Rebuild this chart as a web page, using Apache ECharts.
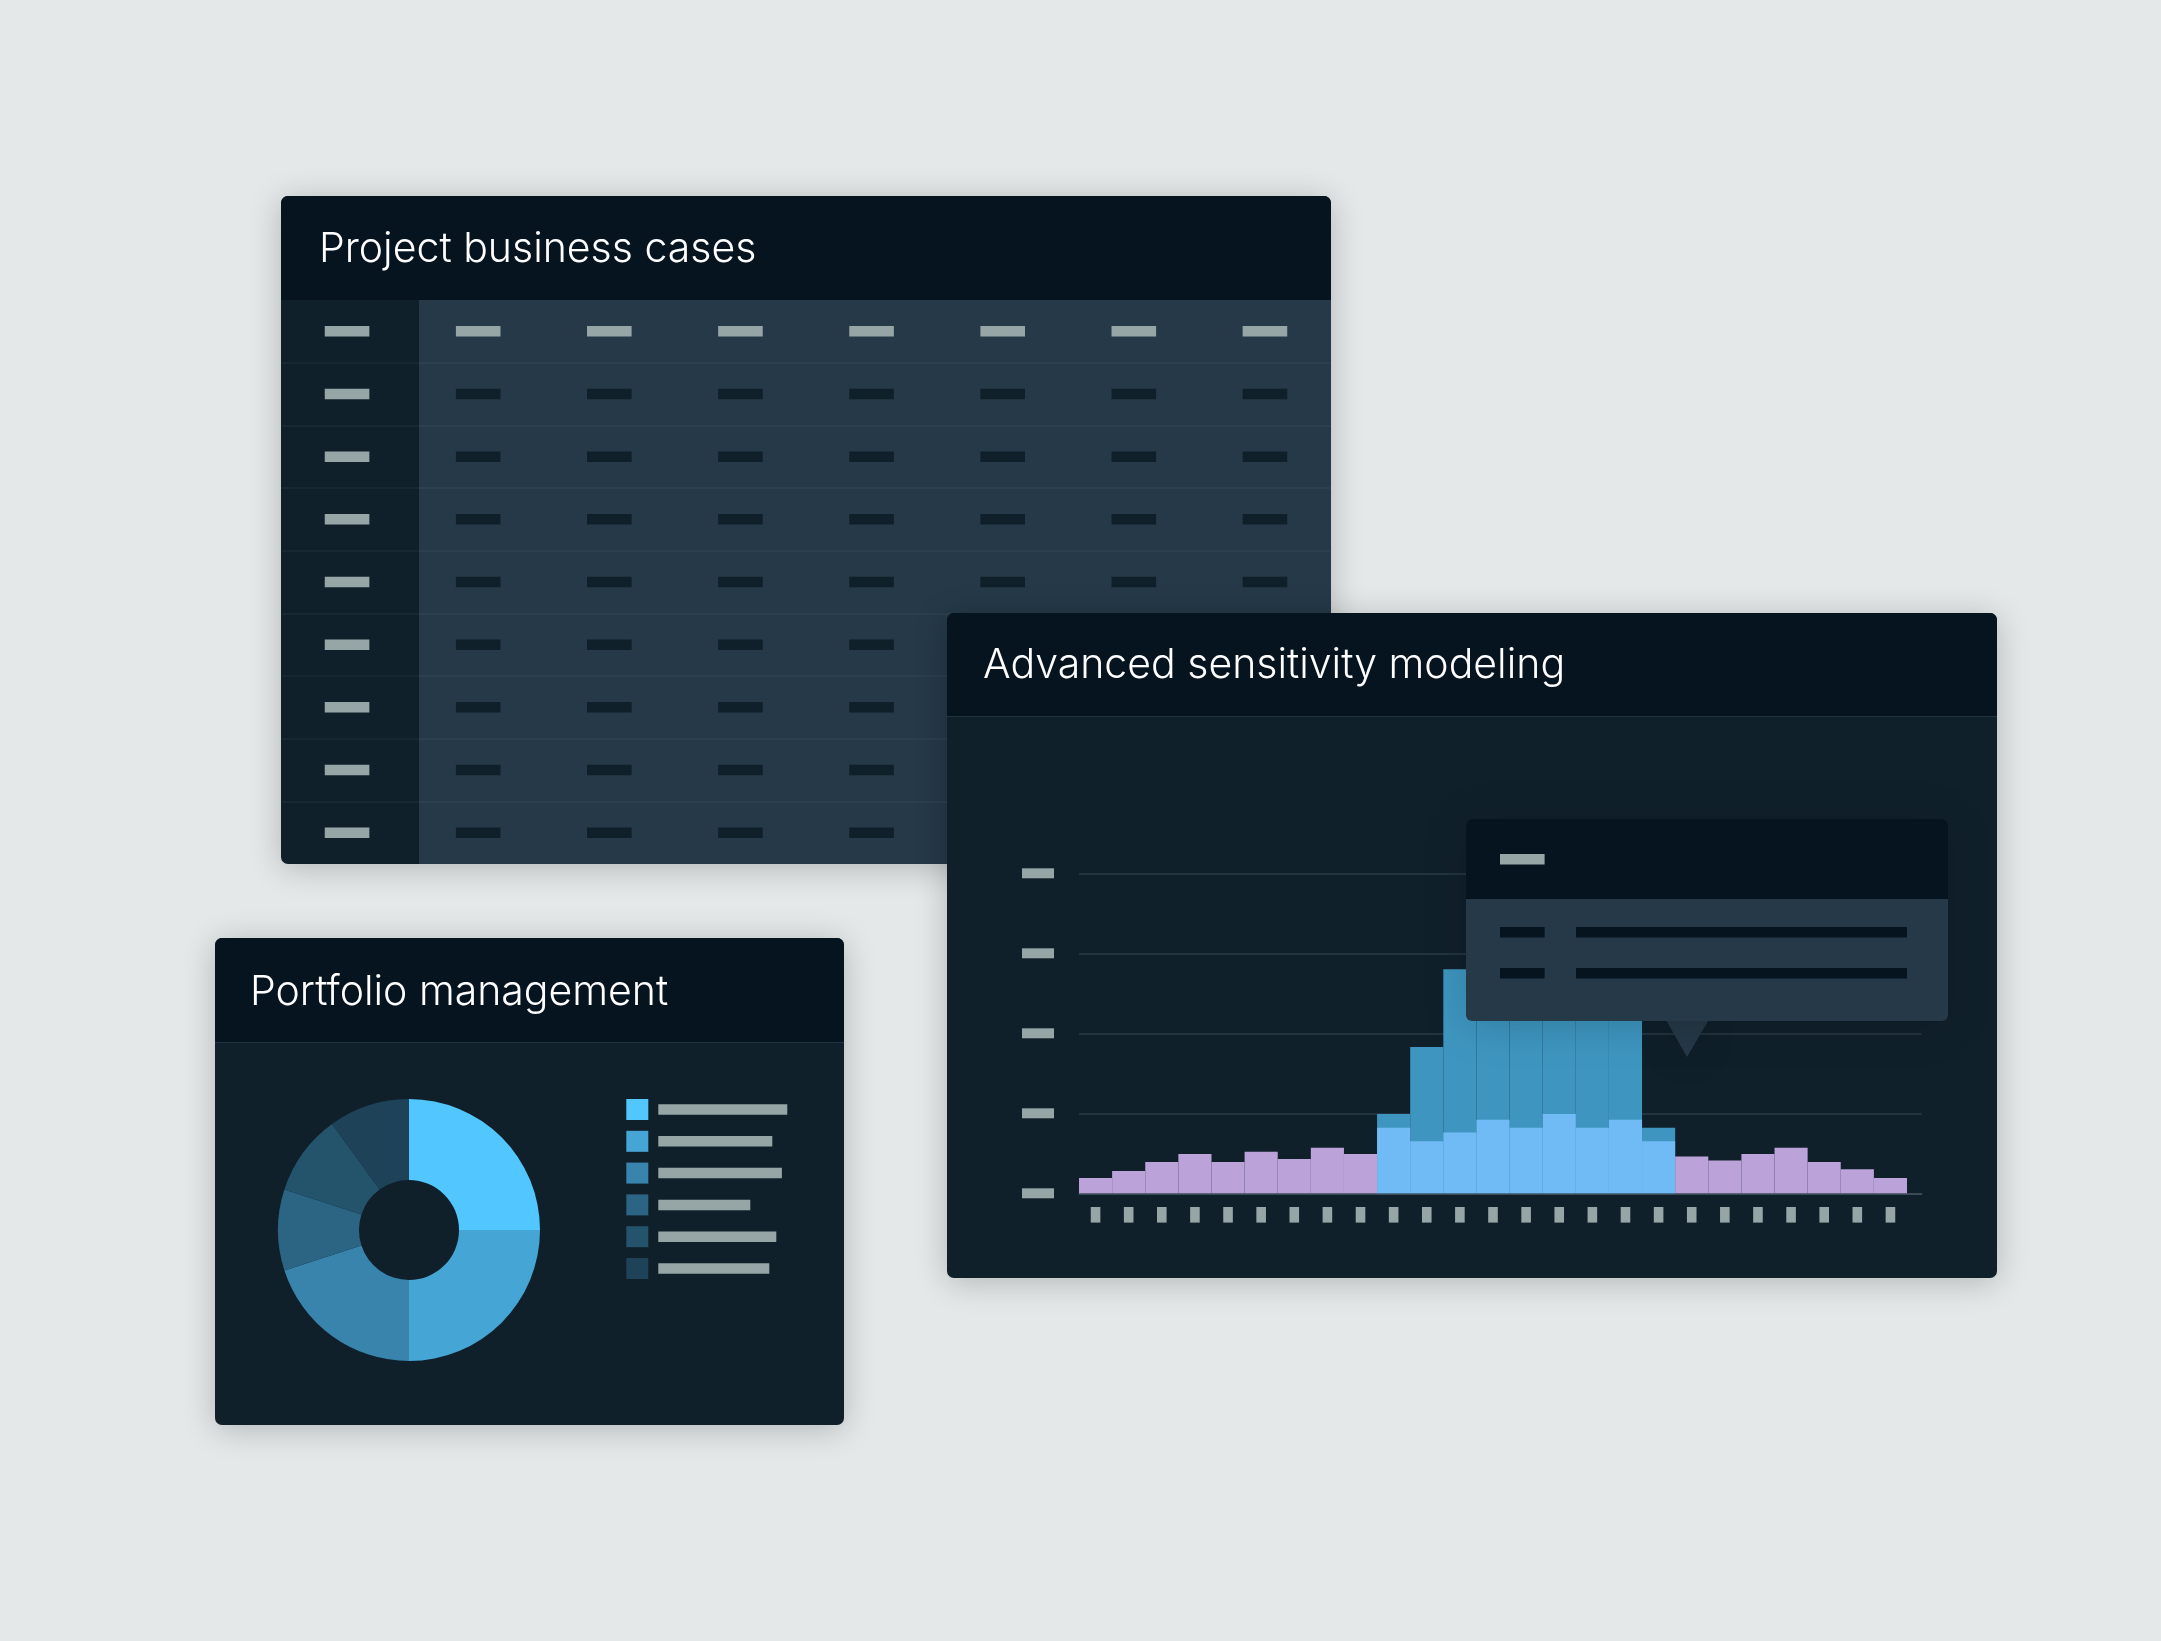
<!DOCTYPE html>
<html><head><meta charset="utf-8">
<style>html,body{margin:0;padding:0;background:#E4E8E9}#c{width:2161px;height:1641px}</style>
<script src="https://cdn.jsdelivr.net/npm/echarts@6/dist/echarts.min.js"></script>
</head><body><div id="c"></div>
<script>
// ---- data ----
const tableColumns = ['c0','c1','c2','c3','c4','c5','c6','c7'];
const tableRows = ['r0','r1','r2','r3','r4','r5','r6','r7','r8'];

const binLabels = ['1','2','3','4','5','6','7','8','9','10','11','12','13','14','15','16','17','18','19','20','21','22','23','24','25'];
const purpleValues = [19,28,39,49,39,52,43,57,49,null,null,null,null,null,null,null,null,null,46,41,49,57,39,30,19];
const lightValues  = [null,null,null,null,null,null,null,null,null,82,65,76,92,82,99,82,92,65,null,null,null,null,null,null,null];
const tealValues   = [null,null,null,null,null,null,null,null,null,99,183,280,290,310,300,280,250,82,null,null,null,null,null,null,null];

const sliceNames  = ['Slice 1','Slice 2','Slice 3','Slice 4','Slice 5','Slice 6'];
const sliceValues = [25,25,20,10,10,10];
const sliceColors = ['#52C7FF','#45A6D5','#3884AD','#2B6583','#24536C','#1E4258'];
const legendBarWidths = [129,114,123.6,92,118,111];

// ---- palette ----
const HEAD='#05141F', PANEL='#10202B', BODY='#253948', DASH='#96A6A6', DIM='#10202B', R=7;

const tableLight=[], tableDark=[];
tableColumns.forEach(c=>tableRows.forEach(r=>{
  (c==='c0'||r==='r0'?tableLight:tableDark).push([c,r]);
}));

const shadow={shadowColor:'rgba(0,0,0,0.22)',shadowBlur:32,shadowOffsetY:4};
function rect(x,y,w,h,fill,z,r,extra){
  return {type:'rect',z:z,silent:true,shape:{x,y,width:w,height:h,r:r||0},style:Object.assign({fill},extra||{})};
}
const graphics=[
  // project panel
  rect(281,196,1050,668,PANEL,1,R,shadow),
  rect(419,300,912,564,BODY,1,[0,0,R,0]),
  rect(281,196,1050,104,HEAD,1,[R,R,0,0]),
  // portfolio panel
  rect(215,938,629,487,PANEL,1,R,shadow),
  rect(215,938,629,104,HEAD,1,[R,R,0,0]),
  rect(215,1042,629,1,'#1E3240',1),
  // sensitivity panel
  rect(947,613,1050,665,PANEL,5,R,shadow),
  rect(947,613,1050,103,HEAD,5,[R,R,0,0]),
  rect(947,716,1050,1,'#1E3240',5),
  // tooltip card
  {type:'polygon',z:8,silent:true,shape:{points:[[1666.5,1021],[1708,1021],[1687,1057]]},
   style:{fill:BODY,shadowColor:'rgba(0,0,0,0.18)',shadowBlur:36,shadowOffsetY:4}},
  rect(1466,819,482,202,BODY,8,6,{shadowColor:'rgba(0,0,0,0.18)',shadowBlur:44,shadowOffsetY:4}),
  rect(1466,819,482,80,HEAD,8,[6,6,0,0]),
  rect(1500,854,44.6,10.5,DASH,8),
  rect(1500,927,44.6,10.5,HEAD,8),
  rect(1576,927,331,10.5,HEAD,8),
  rect(1500,968,44.6,10.5,HEAD,8),
  rect(1576,968,331,10.5,HEAD,8)
];

const titleStyle={color:'#FFFFFF',fontFamily:'Inter',fontWeight:300,fontSize:41};
const rich={gap:{width:5,height:10.5}};
sliceNames.forEach((n,i)=>{rich['b'+i]={width:legendBarWidths[i],height:10.5,backgroundColor:DASH};});

const option={
  animation:false,
  backgroundColor:'#E4E8E9',
  title:[
    {text:'Project business cases',left:319,top:229,z:3,padding:0,textStyle:titleStyle},
    {text:'Advanced sensitivity modeling',left:983,top:645,z:9,padding:0,textStyle:titleStyle},
    {text:'Portfolio management',left:250,top:972,z:3,padding:0,textStyle:titleStyle}
  ],
  graphic:{elements:graphics},
  legend:{
    data:sliceNames,orient:'vertical',left:626.3,top:1099,itemWidth:22,itemHeight:21,itemGap:10.8,
    icon:'rect',selectedMode:false,z:3,padding:0,
    formatter:n=>'{gap|}{b'+sliceNames.indexOf(n)+'| }',
    textStyle:{rich:rich}
  },
  grid:[
    {left:281.5,top:300,width:1049,height:564,z:2},
    {left:1079,top:873.3,width:828,height:320,z:6},
    {left:1079,top:873.3,width:842.6,height:320,z:6}
  ],
  xAxis:[
    {gridIndex:0,type:'category',data:tableColumns,show:false,z:2},
    {gridIndex:1,type:'category',data:binLabels,z:6,axisLine:{show:false},axisTick:{show:false},
     axisLabel:{interval:0,margin:13.7,formatter:()=>' ',backgroundColor:DASH,width:9.6,height:15.6}},
    {gridIndex:2,type:'value',min:0,max:1,z:6,splitLine:{show:false},axisTick:{show:false},axisLabel:{show:false},
     axisLine:{show:true,onZero:false,lineStyle:{color:'#43535F',width:1.5}}}
  ],
  yAxis:[
    {gridIndex:0,type:'category',data:tableRows,inverse:true,z:2,axisLine:{show:false},axisTick:{show:false},axisLabel:{show:false},
     splitLine:{show:true,showMinLine:false,showMaxLine:false,lineStyle:{color:'rgba(255,255,255,0.05)',width:1.5}}},
    {gridIndex:1,type:'value',min:0,max:400,show:false,z:6},
    {gridIndex:2,type:'value',min:0,max:400,interval:100,z:6,axisLine:{show:false},axisTick:{show:false},
     axisLabel:{margin:25,formatter:()=>' ',backgroundColor:DASH,width:32,height:10},
     splitLine:{show:true,lineStyle:{color:'#2A3B48',width:1.5}}}
  ],
  series:[
    {type:'scatter',name:'Header cells',xAxisIndex:0,yAxisIndex:0,z:3,symbol:'rect',symbolSize:[44.6,10.5],silent:true,
     itemStyle:{color:DASH,opacity:1},data:tableLight},
    {type:'scatter',name:'Body cells',xAxisIndex:0,yAxisIndex:0,z:3,symbol:'rect',symbolSize:[44.6,10.5],silent:true,
     itemStyle:{color:DIM,opacity:1},data:tableDark},
    {type:'bar',name:'Teal',xAxisIndex:1,yAxisIndex:1,z:7,barGap:'-100%',barCategoryGap:0,silent:true,
     itemStyle:{color:'#3E96C0'},data:tealValues},
    {type:'bar',name:'Light',xAxisIndex:1,yAxisIndex:1,z:7,barGap:'-100%',barCategoryGap:0,silent:true,
     itemStyle:{color:'#70BAF5'},data:lightValues},
    {type:'bar',name:'Purple',xAxisIndex:1,yAxisIndex:1,z:7,barGap:'-100%',barCategoryGap:0,silent:true,
     itemStyle:{color:'#BBA3DA'},data:purpleValues},
    {type:'pie',name:'Portfolio',center:[409,1230],radius:[50,131],startAngle:90,z:3,silent:true,
     label:{show:false},labelLine:{show:false},
     data:sliceNames.map((n,i)=>({name:n,value:sliceValues[i],itemStyle:{color:sliceColors[i]}}))}
  ]
};
const chart=echarts.init(document.getElementById('c'),null,{renderer:'canvas',width:2161,height:1641});
chart.setOption(option);
</script></body></html>
